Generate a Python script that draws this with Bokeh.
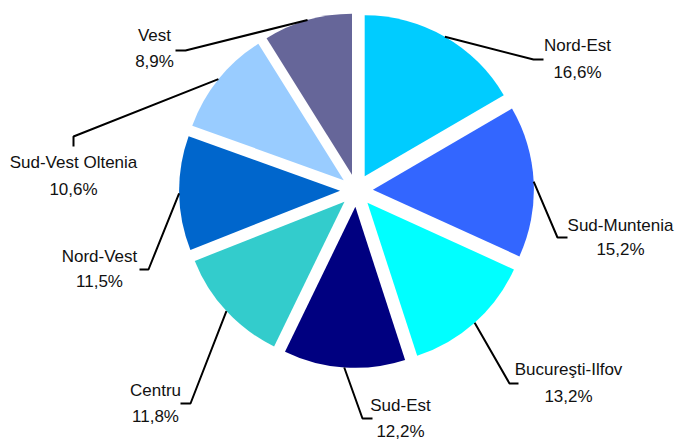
import math
from bokeh.plotting import figure
from bokeh.models import Range1d, ColumnDataSource
from bokeh.core.properties import value
from bokeh.embed import file_html
from bokeh.resources import INLINE

# ---- data ----
regions = ["Nord-Est", "Sud-Muntenia", "Bucureşti-Ilfov", "Sud-Est",
           "Centru", "Nord-Vest", "Sud-Vest Oltenia", "Vest"]
shares = [16.6, 15.2, 13.2, 12.2, 11.8, 11.5, 10.6, 8.9]
colors = ["#00CCFF", "#3366FF", "#00FFFF", "#000080",
          "#33CCCC", "#0066CC", "#99CCFF", "#666699"]

# ---- layout (pixels in plot space) ----
W, H = 676, 441
CX, CY, R, EXPLODE = 356, 251, 161, 16.4
FONT = "Liberation Sans"
# elbow point, end of short segment, label centre x, baseline of line 1 and line 2
label_layout = {
    "Nord-Est":         ((533, 382), (543, 382), 577, 396, 369),
    "Sud-Muntenia":     ((557, 204), (567, 204), 620, 216, 192),
    "Bucureşti-Ilfov":  ((509, 58),  (518, 58),  568, 72, 45),
    "Sud-Est":          ((362, 23),  (372, 23),  400, 36, 10),
    "Centru":           ((190, 38),  (180, 38),  155, 51, 25),
    "Nord-Vest":        ((148, 172), (139, 172), 99, 185, 160),
    "Sud-Vest Oltenia": ((73, 305),  (73, 295),  73, 279, 252),
    "Vest":             ((185, 391), (175, 391), 154, 406, 380),
}

p = figure(width=W, height=H, x_range=Range1d(0, W), y_range=Range1d(0, H),
           output_backend="svg", toolbar_location=None, min_border=0,
           x_axis_location=None, y_axis_location=None,
           outline_line_color=None, background_fill_color="white",
           border_fill_color="white")
p.grid.visible = False

xs, ys, starts, ends = [], [], [], []
lead_x, lead_y = [], []
t_x, t_y, t_txt = [], [], []
total = sum(shares)
cum = 0.0
for name, v in zip(regions, shares):
    a0 = cum / total
    a1 = (cum + v) / total
    cum += v
    mid = math.pi / 2 - 2 * math.pi * (a0 + a1) / 2
    ox = CX + EXPLODE * math.cos(mid)
    oy = CY + EXPLODE * math.sin(mid)
    xs.append(ox)
    ys.append(oy)
    starts.append(math.pi / 2 - 2 * math.pi * a1)
    ends.append(math.pi / 2 - 2 * math.pi * a0)
    ax = ox + R * math.cos(mid)
    ay = oy + R * math.sin(mid)
    (ex, ey), (fx, fy), lx, b1, b2 = label_layout[name]
    lead_x.append([ax, ex, fx])
    lead_y.append([ay, ey, fy])
    pct = ("%.1f" % v).replace(".", ",") + "%"
    t_x += [lx, lx]
    t_y += [b1, b2]
    t_txt += [name, pct]

src = ColumnDataSource(dict(x=xs, y=ys, start=starts, end=ends, color=colors))
p.wedge(x="x", y="y", radius=R, start_angle="start", end_angle="end",
        fill_color="color", line_color=None, source=src)

p.multi_line(xs=lead_x, ys=lead_y, line_color="black", line_width=2)

p.text(x=t_x, y=t_y, text=t_txt, text_font=value(FONT),
       text_font_size="17px", text_color="#111111",
       text_align="center", text_baseline="alphabetic")

with open("out.html", "w") as f:
    f.write(file_html(p, INLINE))
